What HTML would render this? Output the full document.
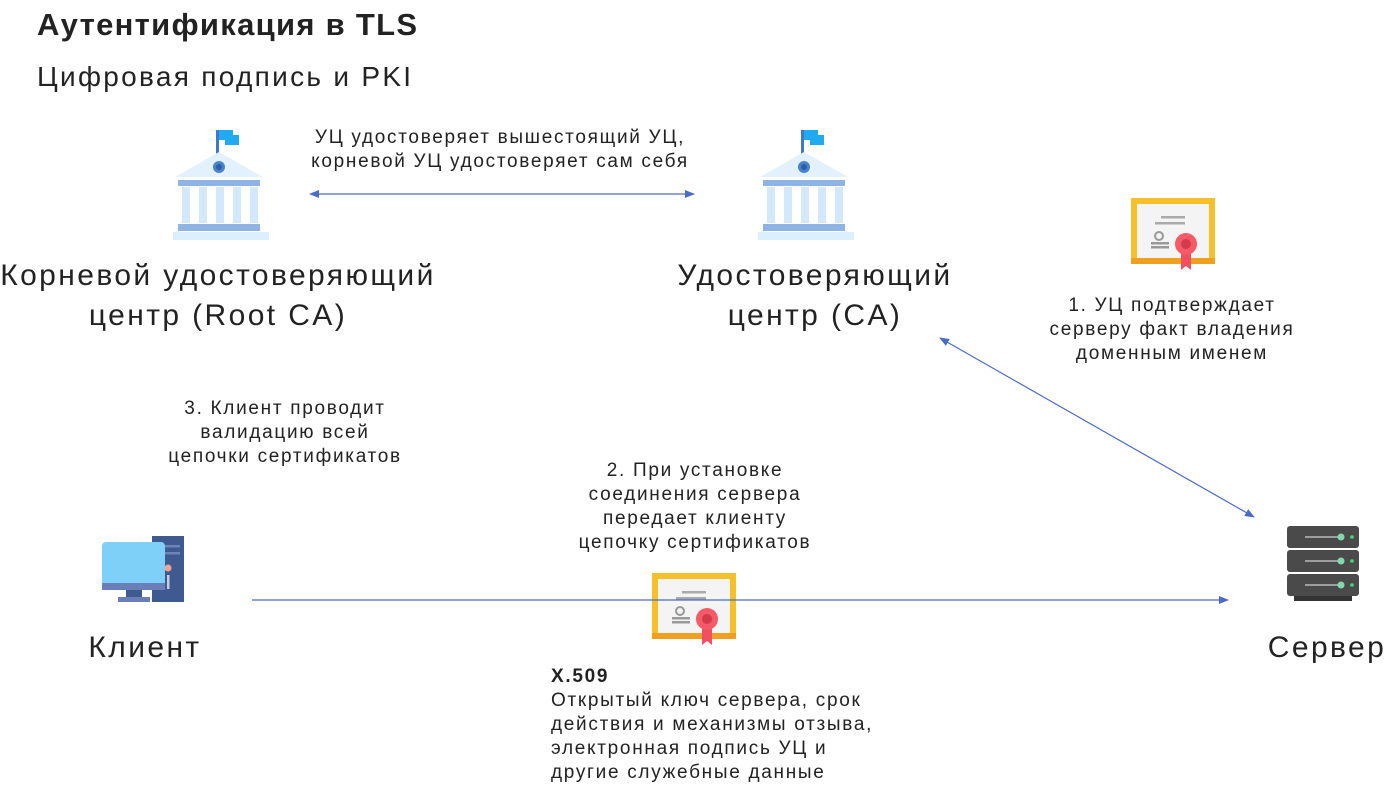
<!DOCTYPE html>
<html><head><meta charset="utf-8"><style>
body{margin:0;width:1391px;height:806px;background:#fff;position:relative;overflow:hidden;font-family:"Liberation Sans","DejaVu Sans",sans-serif;color:#222}
.t{position:absolute;white-space:nowrap}
.c{text-align:center}
.s{font-size:19px;line-height:24px;letter-spacing:1.7px}
.b{font-size:30px;line-height:40px;letter-spacing:2.4px}
</style></head><body>
<div class="t" style="left:37px;top:7px;font-size:31px;font-weight:bold;letter-spacing:1.3px">Аутентификация в TLS</div>
<div class="t" style="left:37px;top:61px;font-size:28px;letter-spacing:2.3px">Цифровая подпись и PKI</div>

<div class="t c s" style="left:200px;width:600px;top:126px">УЦ удостоверяет вышестоящий УЦ,<br>корневой УЦ удостоверяет сам себя</div>
<div class="t c b" style="left:-50px;width:536px;top:256px">Корневой удостоверяющий<br>центр (Root CA)</div>
<div class="t c b" style="left:615px;width:400px;top:256px">Удостоверяющий<br>центр (CA)</div>
<div class="t c s" style="left:1022px;width:300px;top:294px">1. УЦ подтверждает<br>серверу факт владения<br>доменным именем</div>
<div class="t c s" style="left:135px;width:300px;top:397px">3. Клиент проводит<br>валидацию всей<br>цепочки сертификатов</div>
<div class="t c s" style="left:545px;width:300px;top:459px">2. При установке<br>соединения сервера<br>передает клиенту<br>цепочку сертификатов</div>
<div class="t c b" style="left:60px;width:170px;top:628px">Клиент</div>
<div class="t c b" style="left:1242px;width:170px;top:628px">Сервер</div>
<div class="t s" style="left:551px;top:665px"><b>X.509</b><br>Открытый ключ сервера, срок<br>действия и механизмы отзыва,<br>электронная подпись УЦ и<br>другие служебные данные</div>

<svg width="1391" height="806" style="position:absolute;left:0;top:0">
<defs>
<marker id="a" markerWidth="10" markerHeight="10" refX="9" refY="5" orient="auto-start-reverse" markerUnits="userSpaceOnUse"><path d="M0,1 L10,5 L0,9 Z" fill="#4a6cc8"/></marker>
<g id="bank">
<rect x="46" y="5" width="3" height="25" fill="#3f78c8"/>
<rect x="49" y="5" width="14" height="10" fill="#22aaf0"/>
<rect x="55" y="10" width="14" height="10" fill="#22aaf0"/>
<path d="M49,27 L93,52 L5,52 Z" fill="#e3f1fc"/>
<circle cx="49" cy="42" r="6" fill="#4a82cc"/><circle cx="49" cy="42" r="3" fill="#2a5fa8"/>
<rect x="8" y="55" width="82" height="6" fill="#8fb3e3"/>
<rect x="12" y="62" width="8" height="36" fill="#d3e8fa"/><rect x="29" y="62" width="8" height="36" fill="#d3e8fa"/><rect x="46" y="62" width="8" height="36" fill="#d3e8fa"/><rect x="63" y="62" width="8" height="36" fill="#d3e8fa"/><rect x="80" y="62" width="8" height="36" fill="#d3e8fa"/>
<rect x="8" y="99" width="82" height="7" fill="#8fb3e3"/>
<rect x="3" y="107" width="96" height="8" fill="#dbeffc"/>
</g>
<g id="cert">
<rect x="0" y="0" width="84" height="66" fill="#f5c02a"/>
<rect x="0" y="60" width="84" height="6" fill="#f0a020"/>
<rect x="6" y="6" width="72" height="54" fill="#f4f4f4"/>
<rect x="30" y="18" width="24" height="2.5" fill="#aaa"/><rect x="24" y="24" width="30" height="2.5" fill="#aaa"/>
<circle cx="28" cy="38" r="4" fill="none" stroke="#999" stroke-width="2"/><rect x="20" y="44" width="18" height="2.5" fill="#999"/><rect x="20" y="48" width="18" height="2.5" fill="#999"/>
<path d="M50,50 L50,72 L55,68 L60,72 L60,50Z" fill="#f05060"/>
<circle cx="55" cy="46" r="11" fill="#f55a66"/><circle cx="55" cy="46" r="5" fill="#d33a4c"/>
</g>
</defs>
<use href="#bank" x="170" y="125"/>
<use href="#bank" x="755" y="125"/>
<use href="#cert" x="1131" y="198"/>
<use href="#cert" x="652" y="573"/>
<line x1="310" y1="194" x2="694" y2="194" stroke="#4a6cc8" stroke-width="1.2" marker-start="url(#a)" marker-end="url(#a)"/>
<line x1="940" y1="338" x2="1254" y2="517" stroke="#4a6cc8" stroke-width="1.2" marker-start="url(#a)" marker-end="url(#a)"/>
<line x1="252" y1="600" x2="1228" y2="600" stroke="#4a6cc8" stroke-width="1.2" marker-end="url(#a)"/>
<rect x="152" y="536" width="32" height="66" fill="#3f5a8e"/>
<rect x="164" y="545" width="16" height="2.5" fill="#6c84b6"/><rect x="164" y="552" width="16" height="2.5" fill="#6c84b6"/>
<circle cx="168" cy="568" r="3.5" fill="#f4a48e"/><rect x="167" y="575" width="2.5" height="14" fill="#ccd"/>
<rect x="102" y="542" width="63" height="48" rx="4" fill="#7fd0f8"/>
<rect x="102" y="583" width="63" height="7" fill="#6a7fb8"/>
<rect x="126" y="590" width="16" height="8" fill="#3f5a8e"/><rect x="118" y="597" width="32" height="5" fill="#6a7fb8"/>
<g fill="#4a4a4a">
<rect x="1287" y="526" width="72" height="22" rx="3"/><rect x="1287" y="550" width="72" height="22" rx="3"/><rect x="1287" y="574" width="72" height="22" rx="3"/>
</g>
<rect x="1294" y="596" width="58" height="5" fill="#333"/>
<g stroke="#bbb" stroke-width="1.5"><line x1="1305" y1="537" x2="1341" y2="537"/><line x1="1305" y1="561" x2="1341" y2="561"/><line x1="1305" y1="585" x2="1341" y2="585"/></g>
<g fill="#7fdcaa"><circle cx="1341" cy="537" r="3.5"/><circle cx="1341" cy="561" r="3.5"/><circle cx="1341" cy="585" r="3.5"/></g>
<g fill="#3be07a"><circle cx="1352" cy="537" r="1.8"/><circle cx="1352" cy="561" r="1.8"/><circle cx="1352" cy="585" r="1.8"/></g>
</svg>
</body></html>
